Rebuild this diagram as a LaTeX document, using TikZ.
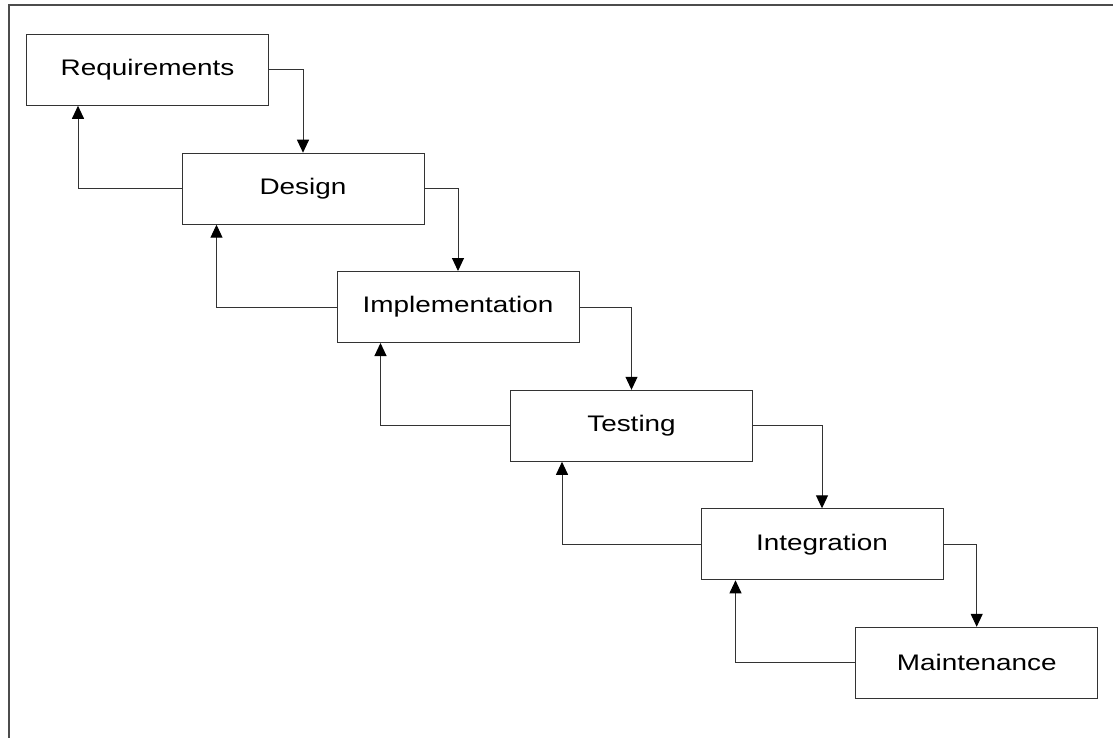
\documentclass[tikz,border=0pt]{standalone}
\usepackage{fontspec}
\newfontfamily\boxfont[FakeStretch=1.24]{Liberation Sans}
\usetikzlibrary{arrows.meta}
\begin{document}
\begin{tikzpicture}[x=1bp,y=-1bp,
  phase/.style={draw=black!80, line width=1bp, fill=white, minimum width=242bp, minimum height=71bp,
    inner sep=0pt, font=\boxfont\fontsize{22.5bp}{26bp}\selectfont, text=black},
  flow/.style={draw=black!80, line width=1bp, -{Triangle[width=12bp,length=13bp,color=black]}},
  framecol/.style={draw=black!70, line width=1.5bp}]
\useasboundingbox (0,0) rectangle (1113,738);
\draw[framecol] (9,738) -- (9,5) -- (1113,5);
\node[phase] (req) at (147.5,69.8) {Requirements};
\node[phase] (des) at (303,188.7) {Design};
\node[phase] (imp) at (458,307) {Implementation};
\node[phase] (tes) at (631.5,425.8) {Testing};
\node[phase] (int) at (822,544.3) {Integration};
\node[phase] (mai) at (976.7,662.8) {Maintenance};
% forward flow
\draw[flow] (req.east) -| (des.north);
\draw[flow] (des.east) -| (imp.north);
\draw[flow] (imp.east) -| (tes.north);
\draw[flow] (tes.east) -| (int.north);
\draw[flow] (int.east) -| (mai.north);
% feedback flow
\draw[flow] (des.west) -| ([xshift=52bp]req.south west);
\draw[flow] (imp.west) -| ([xshift=35bp]des.south west);
\draw[flow] (tes.west) -| ([xshift=44bp]imp.south west);
\draw[flow] (int.west) -| ([xshift=52bp]tes.south west);
\draw[flow] (mai.west) -| ([xshift=35bp]int.south west);
\end{tikzpicture}
\end{document}
